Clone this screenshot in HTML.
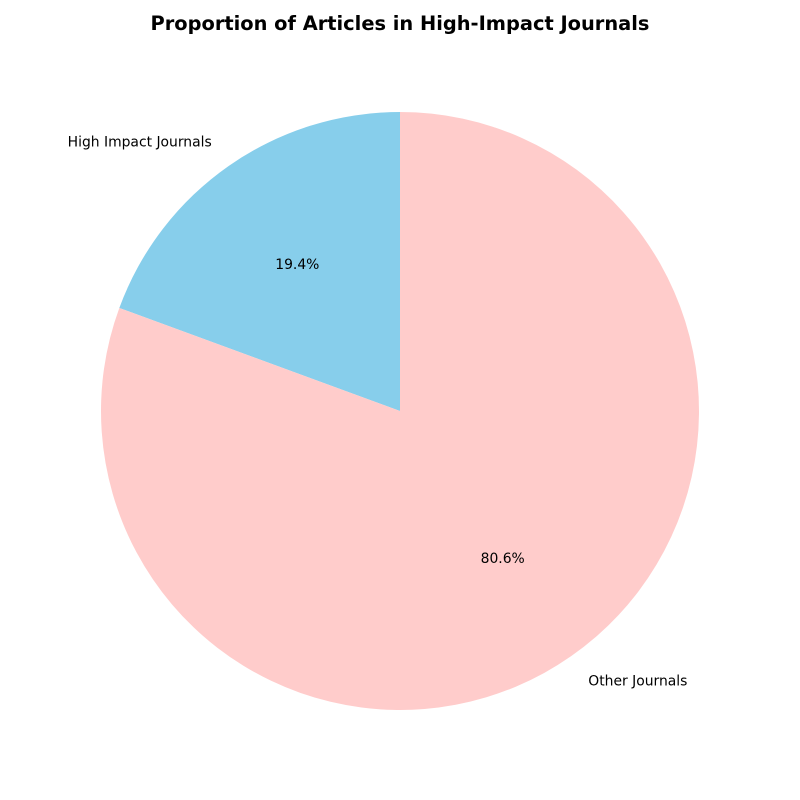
<!DOCTYPE html>
<html>
<head>
<meta charset="utf-8">
<style>
  html, body { margin: 0; padding: 0; background: #fff; }
  svg { display: block; font-family: "DejaVu Sans", "Liberation Sans", sans-serif; }
</style>
</head>
<body>
<svg id="chart" width="800" height="800" viewBox="0 0 800 800">
  <text x="400" y="30" text-anchor="middle" font-size="19.4" font-weight="bold" fill="#000">Proportion of Articles in High-Impact Journals</text>
  <g id="slices"></g>
  <g id="labels"></g>
</svg>
<script>
const categories = ["High Impact Journals", "Other Journals"];
const values = [19.4, 80.6];
const colors = ["#87ceeb", "#ffcccb"];
const sliceNames = ["slice-high-impact", "slice-other"];

const NS = "http://www.w3.org/2000/svg";
const cx = 400, cy = 411, r = 299;
const total = values.reduce((a, b) => a + b, 0);
const slicesG = document.getElementById("slices");
const labelsG = document.getElementById("labels");

function pt(angDeg, rad) {
  const a = angDeg * Math.PI / 180;
  return [cx + rad * Math.cos(a), cy - rad * Math.sin(a)];
}

let start = 90;
values.forEach((v, i) => {
  const sweep = v / total * 360;
  const end = start + sweep;
  const [x1, y1] = pt(start, r);
  const [x2, y2] = pt(end, r);
  const large = sweep > 180 ? 1 : 0;
  const path = document.createElementNS(NS, "path");
  path.setAttribute("d", `M${cx},${cy} L${x1},${y1} A${r},${r} 0 ${large} 0 ${x2},${y2} Z`);
  path.setAttribute("fill", colors[i]);
  
  
  slicesG.appendChild(path);

  const mid = start + sweep / 2;
  const [lx, ly] = pt(mid, r * 1.1);
  const lab = document.createElementNS(NS, "text");
  lab.setAttribute("x", lx);
  lab.setAttribute("y", ly + 5);
  lab.setAttribute("font-size", "13.9");
  lab.setAttribute("text-anchor", Math.cos(mid * Math.PI / 180) < 0 ? "end" : "start");
  lab.textContent = categories[i];
  
  
  labelsG.appendChild(lab);

  const [px, py] = pt(mid, r * 0.6);
  const pct = document.createElementNS(NS, "text");
  pct.setAttribute("x", px);
  pct.setAttribute("y", py + 5);
  pct.setAttribute("font-size", "13.9");
  pct.setAttribute("text-anchor", "middle");
  pct.textContent = (v / total * 100).toFixed(1) + "%";
  
  
  labelsG.appendChild(pct);

  start = end;
});
</script>
</body>
</html>
